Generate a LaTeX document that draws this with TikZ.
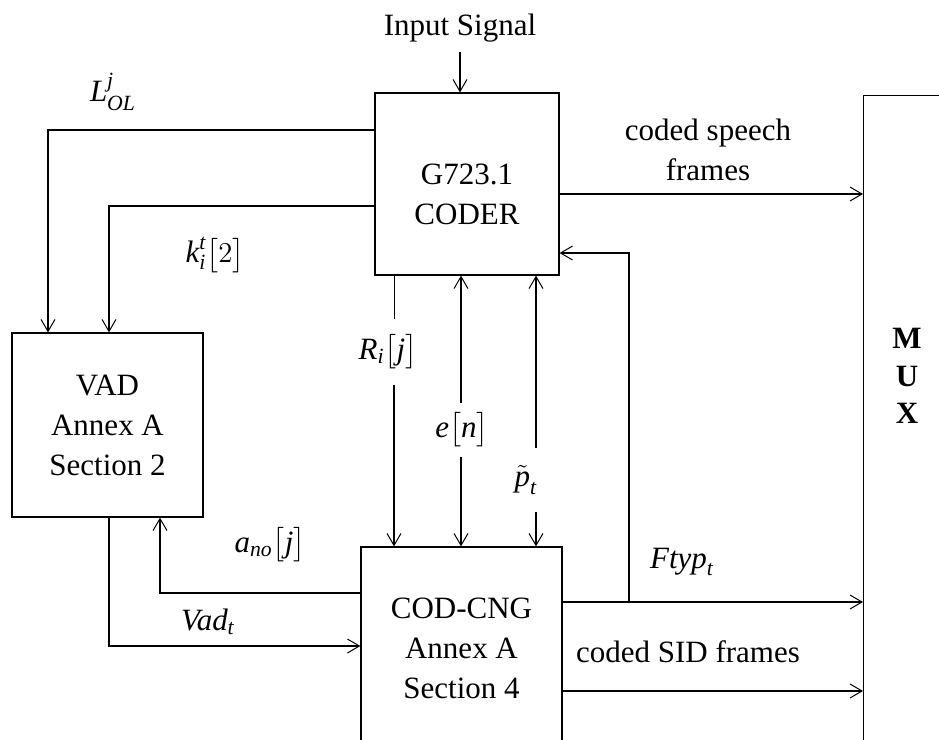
\documentclass[tikz,border=0pt]{standalone}
\usepackage{amsmath}
\usepackage{fontspec}
\setmainfont{Liberation Serif}
\usepackage{tikz}
\usetikzlibrary{arrows.meta,positioning}

\newcommand{\mv}[1]{\textit{#1}}

\tikzset{
  block/.style={draw, line width=0.6pt, inner sep=0pt, align=center},
  arr/.style={-{Straight Barb[length=6pt,width=7pt,line width=0.5pt]}, line width=0.55pt},
  thickarr/.style={arr, line width=1.1pt},
  sig/.style={inner xsep=4pt},
}

\begin{document}
\begin{tikzpicture}[x=0.5pt, y=-0.5pt, font=\fontsize{15.5}{20}\selectfont]
  \path[use as bounding box, clip] (0,0) rectangle (939,740);

  % Blocks
  \node[block, minimum width=92pt, minimum height=91pt] (coder) at (467,184) {};
  \node[align=center] (codertxt) at (467,194) {G723.1\\CODER};
  \node[block, minimum width=95.5pt, minimum height=92pt] (vad) at (107.5,425) {VAD\\Annex A\\Section 2};
  \node[block, minimum width=100.5pt, minimum height=101pt] (cng) at (461.5,648) {COD-CNG\\Annex A\\Section 4};
  \node[block, minimum width=100pt, minimum height=400pt, anchor=north west] (mux) at (863,95) {};
  \node[font=\fontsize{15.5}{18.75}\selectfont\bfseries, align=center] (muxtxt) at (907,376) {M\\U\\X};

  % Input
  \node[inner sep=4.5pt] (inp) at (460,28) {Input Signal};
  \draw[arr] (inp.south) -- (coder.north -| inp.south);

  % Feedback to VAD
  \coordinate (lol) at (48,130);
  \draw[thickarr] (coder.west |- lol) -| (vad.north -| lol);
  \node (lollab) at (113,92) {$\mv{L}^{\mv{j}}_{\mv{OL}}$};

  \coordinate (kin) at (109,206);
  \draw[arr] (coder.west |- kin) -| (vad.north -| kin);
  \node (klab) at (215,255) {$\mv{k}^{\mv{t}}_{\mv{i}}\bigl[2\bigr]$};

  % Coder to MUX
  \coordinate (csf) at (0,194);
  \draw[arr] (coder.east |- csf) -- (mux.west |- csf);
  \node[align=center] (csflab) at (708,150) {coded speech\\frames};

  % Coder <-> COD-CNG
  \coordinate (rx) at (394,0);
  \node[sig, inner ysep=7.5pt] (rij) at (388,352) {$\mv{R}_{\mv{i}}\bigl[\mv{j}\bigr]$};
  \draw (coder.south -| rx) -- (rij.north -| rx);
  \draw[arr] (rij.south -| rx) -- (cng.north -| rx);

  \coordinate (ex) at (461,0);
  \node[sig, inner ysep=4.7pt] (en) at (462,430) {$\mv{e}\bigl[\mv{n}\bigr]$};
  \draw[arr] (en.north -| ex) -- (coder.south -| ex);
  \draw[arr] (en.south -| ex) -- (cng.north -| ex);

  \coordinate (px) at (536,0);
  \node[sig, inner ysep=8.4pt] (pt) at (526,480) {$\tilde{\mv{p}}_{\mv{t}}$};
  \draw[arr] (pt.north -| px) -- (coder.south -| px);
  \draw[arr] (pt.south -| px) -- (cng.north -| px);

  % COD-CNG to MUX
  \coordinate (ftyp) at (629,602);
  \coordinate (fback) at (0,253);
  \draw[arr] (cng.east |- ftyp) -- (mux.west |- ftyp);
  \draw[arr] (ftyp) |- (coder.east |- fback);
  \node (ftyplab) at (682,562) {$\mv{Ftyp}_{\mv{t}}$};

  \coordinate (sid) at (0,691);
  \draw[arr] (cng.east |- sid) -- (mux.west |- sid);
  \node (sidlab) at (688,652) {coded SID frames};

  % VAD <-> COD-CNG
  \coordinate (ano) at (160,593);
  \draw[thickarr] (cng.west |- ano) -| (vad.south -| ano);
  \node (anolab) at (270,545) {$\mv{a}_{\mv{no}}\bigl[\mv{j}\bigr]$};

  \coordinate (vadt) at (109,646);
  \draw[arr] (vad.south -| vadt) |- (cng.west |- vadt);
  \node (vadlab) at (208,622) {$\mv{Vad}_{\mv{t}}$};
\end{tikzpicture}
\end{document}
